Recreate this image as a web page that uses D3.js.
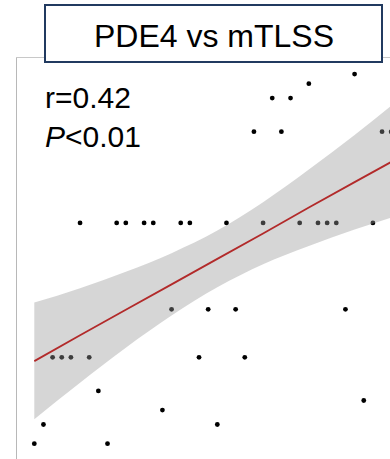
<!DOCTYPE html>
<html>
<head>
<meta charset="utf-8">
<script src="https://cdn.jsdelivr.net/npm/d3@7"></script>
<style>
  body { margin: 0; background: #fff; }
  svg { display: block; font-family: "Liberation Sans", Arial, sans-serif; }
</style>
</head>
<body>
<svg id="chart" width="390" height="459"></svg>
<script>
// PDE4 (x) and mTLSS (y) values
var pde4 = [0, 8, 1, 20, 14, 36, 7, 2, 3, 4, 6, 18, 23, 15, 19, 22, 34,
  5, 9, 10, 12, 13, 16, 17, 21, 25, 29, 31, 32, 33, 37, 24, 27, 38, 39, 26, 28, 30, 35];
var mtlss = [0, 0, 4, 4, 7, 9, 11, 18, 18, 18, 18, 18, 18, 28, 28, 28, 28,
  46, 46, 46, 46, 46, 46, 46, 46, 46, 46, 46, 46, 46, 46, 65, 65, 65, 65, 72, 72, 75, 77];

// fitted line and 95% band
var fitX = [0, 5, 10, 15, 20, 25, 30, 35, 39];
var fitY = [17.2, 22.6, 27.9, 33.2, 38.5, 43.8, 49.2, 54.5, 58.7];
var ciLo = [5.1, 12.7, 20.0, 26.7, 32.6, 37.4, 41.2, 44.6, 47.1];
var ciHi = [29.4, 32.4, 35.8, 39.7, 44.4, 50.3, 57.1, 64.3, 70.4];

var title = "PDE4 vs mTLSS";
var rText = "r=0.42";
var pText = "<0.01";

var svg = d3.select("#chart");

var x = d3.scaleLinear().domain([0, 39]).range([34.3, 391.2]);
var y = d3.scaleLinear().domain([0, 77]).range([443.7, 74.1]);

// panel border (only left and top show in the crop)
svg.append("line")
  .attr("x1", 16.5).attr("x2", 16.5).attr("y1", 57).attr("y2", 459)
  .attr("stroke", "#b8b8b8").attr("stroke-width", 1);
svg.append("line")
  .attr("x1", 16).attr("x2", 390).attr("y1", 57.5).attr("y2", 57.5)
  .attr("stroke", "#c8c8c8").attr("stroke-width", 1);

var pts = pde4.map(function (d, i) { return { x: d, y: mtlss[i] }; });

svg.append("g")
  .selectAll("circle")
  .data(pts)
  .enter()
  .append("circle")
  .attr("cx", function (d) { return x(d.x); })
  .attr("cy", function (d) { return y(d.y); })
  .attr("r", 2.4)
  .attr("fill", "#000");

var band = fitX.map(function (d, i) { return { x: d, lo: ciLo[i], hi: ciHi[i], fit: fitY[i] }; });

var area = d3.area()
  .x(function (d) { return x(d.x); })
  .y0(function (d) { return y(d.lo); })
  .y1(function (d) { return y(d.hi); })
  .curve(d3.curveMonotoneX);

svg.append("path")
  .datum(band)
  .attr("d", area)
  .attr("fill", "#999999")
  .attr("fill-opacity", 0.4);

var line = d3.line()
  .x(function (d) { return x(d.x); })
  .y(function (d) { return y(d.fit); });

svg.append("path")
  .datum(band)
  .attr("d", line)
  .attr("fill", "none")
  .attr("stroke", "#b22a2a")
  .attr("stroke-width", 1.8);

// title box
svg.append("rect")
  .attr("x", 45).attr("y", 5).attr("width", 337).attr("height", 57)
  .attr("fill", "#fff")
  .attr("stroke", "#213a60").attr("stroke-width", 2);

svg.append("text")
  .attr("x", 214).attr("y", 47)
  .attr("text-anchor", "middle")
  .attr("font-size", 32)
  .attr("fill", "#000")
  .text(title);

svg.append("text")
  .attr("x", 45).attr("y", 108)
  .attr("font-size", 30)
  .text(rText);

var pt = svg.append("text")
  .attr("x", 45).attr("y", 147)
  .attr("font-size", 30);
pt.append("tspan").attr("font-style", "italic").text("P");
pt.append("tspan").text(pText);
</script>
</body>
</html>
